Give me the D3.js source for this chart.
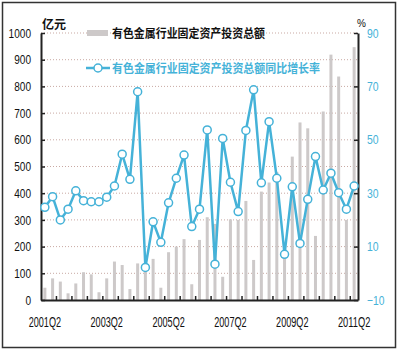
<!DOCTYPE html>
<html>
<head>
<meta charset="utf-8">
<script src="https://cdn.jsdelivr.net/npm/d3@7"></script>
<style>
body { margin: 0; background: #fff; }
svg text { font-family: "Liberation Sans", Arial, sans-serif; }
</style>
</head>
<body>
<div id="chart"></div>
<script>
var quarters = ["2001Q2","2001Q3","2001Q4","2002Q1","2002Q2","2002Q3","2002Q4","2003Q1","2003Q2","2003Q3",
    "2003Q4","2004Q1","2004Q2","2004Q3","2004Q4","2005Q1","2005Q2","2005Q3","2005Q4","2006Q1",
    "2006Q2","2006Q3","2006Q4","2007Q1","2007Q2","2007Q3","2007Q4","2008Q1","2008Q2","2008Q3",
    "2008Q4","2009Q1","2009Q2","2009Q3","2009Q4","2010Q1","2010Q2","2010Q3","2010Q4","2011Q1","2011Q2"];

// 亿元
var investment = [46, 81, 69, 25, 62, 104, 96, 29, 81, 144,
    131, 41, 137, 112, 154, 46, 179, 200, 228, 59,
    225, 310, 285, 87, 302, 300, 371, 150, 406, 440,
    480, 190, 537, 665, 643, 240, 706, 919, 837, 300, 947];

// %
var growth = [24.7, 28.7, 20, 24, 30.9, 27.2, 26.8, 26.8, 28.5, 32.7,
    44.6, 35.2, 68, 2.2, 19.3, 11.6, 26.4, 35.6, 44.3, 17.5,
    24, 53.7, 3.4, 50.5, 34.1, 23.1, 53.5, 68.7, 33.9, 56.8,
    35.6, 7.1, 32.4, 11.2, 27.7, 43.7, 31.2, 37.5, 30.2, 24, 32.7];

var leftTicks = [0, 100, 200, 300, 400, 500, 600, 700, 800, 900, 1000];
var rightTicks = [-10, 10, 30, 50, 70, 90];
var xLabels = ["2001Q2", "2003Q2", "2005Q2", "2007Q2", "2009Q2", "2011Q2"];

var barName = "有色金属行业固定资产投资总额";
var lineName = "有色金属行业固定资产投资总额同比增长率";

var teal = "#45b2d8";

var margin = {top: 33, right: 42, bottom: 51, left: 41};
var width = 400 - margin.left - margin.right;
var height = 351 - margin.top - margin.bottom;

var root = d3.select("#chart")
    .append("svg")
    .attr("width", 400)
    .attr("height", 351);

// outer frame
root.append("rect")
    .attr("x", 2.5).attr("y", 2.5)
    .attr("width", 393).attr("height", 345)
    .attr("fill", "none")
    .attr("stroke", "#333")
    .attr("stroke-width", 1.5);

var svg = root.append("g")
    .attr("transform", "translate(" + margin.left + "," + margin.top + ")");

var x = d3.scaleBand()
    .domain(quarters)
    .range([0, width]);

var yLeft = d3.scaleLinear()
    .domain([0, 1000])
    .range([height, 0]);

var yRight = d3.scaleLinear()
    .domain([-10, 90])
    .range([height, 0]);

// the numbers in the original are set in a narrow face, squeeze them
function narrow(sel, perChar) {
    sel.each(function() {
        var t = d3.select(this);
        t.attr("textLength", t.text().length * perChar)
         .attr("lengthAdjust", "spacingAndGlyphs");
    });
}

// grid
svg.selectAll(".grid")
    .data(leftTicks.filter(d => d > 0))
    .enter().append("line")
    .attr("x1", 0)
    .attr("x2", width)
    .attr("y1", d => yLeft(d))
    .attr("y2", d => yLeft(d))
    .attr("stroke", "#c9a9a3")
    .attr("stroke-width", 1)
    .attr("stroke-dasharray", "1,2");

// bars
var bw = 3;
svg.selectAll(".bar")
    .data(quarters)
    .enter().append("rect")
    .attr("x", d => x(d) + x.bandwidth() / 2 - bw / 2)
    .attr("y", (d, i) => yLeft(investment[i]))
    .attr("width", bw)
    .attr("height", (d, i) => height - yLeft(investment[i]))
    .attr("fill", "#cdc9c9");

// left axis
var leftAxis = svg.append("g")
    .call(d3.axisLeft(yLeft).tickValues(leftTicks).tickFormat(d3.format("d"))
        .tickSize(-4).tickSizeOuter(0).tickPadding(10));
leftAxis.select(".domain").attr("stroke", "#222").attr("stroke-width", 2);
leftAxis.selectAll(".tick line").attr("stroke", "#222").attr("stroke-width", 1.5);
leftAxis.selectAll("text").attr("font-size", 13).attr("fill", "#111").call(narrow, 5.6);

// right axis
var rightAxis = svg.append("g")
    .attr("transform", "translate(" + width + ",0)")
    .call(d3.axisRight(yRight).tickValues(rightTicks).tickFormat(d3.format("d"))
        .tickSize(-4).tickSizeOuter(0).tickPadding(9));
rightAxis.select(".domain").attr("stroke", "#222").attr("stroke-width", 2);
rightAxis.selectAll(".tick line").attr("stroke", "#222").attr("stroke-width", 1.5);
rightAxis.selectAll("text").attr("font-size", 13).attr("fill", teal).call(narrow, 5.8);

// bottom axis
var bottomAxis = svg.append("g")
    .attr("transform", "translate(0," + height + ")")
    .call(d3.axisBottom(x).tickValues(xLabels).tickSize(0).tickSizeOuter(0).tickPadding(17));
bottomAxis.select(".domain").attr("stroke", "#222").attr("stroke-width", 2);
bottomAxis.selectAll("text").attr("font-size", 14).attr("fill", "#111").call(narrow, 5.4);

// small ticks on the category boundaries, every two quarters
svg.selectAll(".xtick")
    .data(quarters.filter((d, i) => i > 0 && i % 2 === 0))
    .enter().append("line")
    .attr("x1", d => x(d))
    .attr("x2", d => x(d))
    .attr("y1", height)
    .attr("y2", height - 4)
    .attr("stroke", "#222")
    .attr("stroke-width", 1.5);

// line
var line = d3.line()
    .x((d, i) => x(quarters[i]) + x.bandwidth() / 2)
    .y(d => yRight(d));

svg.append("path")
    .datum(growth)
    .attr("fill", "none")
    .attr("stroke", teal)
    .attr("stroke-width", 2.5)
    .attr("stroke-linejoin", "round")
    .attr("d", line);

svg.selectAll(".dot")
    .data(growth)
    .enter().append("circle")
    .attr("cx", (d, i) => x(quarters[i]) + x.bandwidth() / 2)
    .attr("cy", d => yRight(d))
    .attr("r", 4)
    .attr("fill", "#fff")
    .attr("stroke", teal)
    .attr("stroke-width", 1.5);

// unit labels
root.append("text")
    .attr("x", 42).attr("y", 29)
    .attr("font-size", 12)
    .attr("font-weight", "bold")
    .style("font-family", "'Noto Sans CJK SC', sans-serif")
    .attr("fill", "#111")
    .text("亿元");

root.append("text")
    .attr("x", 357).attr("y", 27)
    .attr("font-size", 10)
    .attr("fill", "#111")
    .text("%");

// legend
root.append("rect")
    .attr("x", 87).attr("y", 30)
    .attr("width", 21).attr("height", 6)
    .attr("fill", "#cdc9c9");

root.append("text")
    .attr("x", 112).attr("y", 38)
    .attr("font-size", 12)
    .attr("font-weight", "bold")
    .attr("textLength", 153)
    .attr("lengthAdjust", "spacingAndGlyphs")
    .style("font-family", "'Noto Sans CJK SC', sans-serif")
    .attr("fill", "#111")
    .text(barName);

root.append("line")
    .attr("x1", 86).attr("x2", 110)
    .attr("y1", 68).attr("y2", 68)
    .attr("stroke", teal)
    .attr("stroke-width", 2.5);

root.append("circle")
    .attr("cx", 98).attr("cy", 68)
    .attr("r", 4)
    .attr("fill", "#fff")
    .attr("stroke", teal)
    .attr("stroke-width", 1.5);

root.append("text")
    .attr("x", 112).attr("y", 73)
    .attr("font-size", 12)
    .attr("font-weight", "bold")
    .attr("textLength", 208)
    .attr("lengthAdjust", "spacingAndGlyphs")
    .style("font-family", "'Noto Sans CJK SC', sans-serif")
    .attr("fill", teal)
    .text(lineName);
</script>
</body>
</html>
